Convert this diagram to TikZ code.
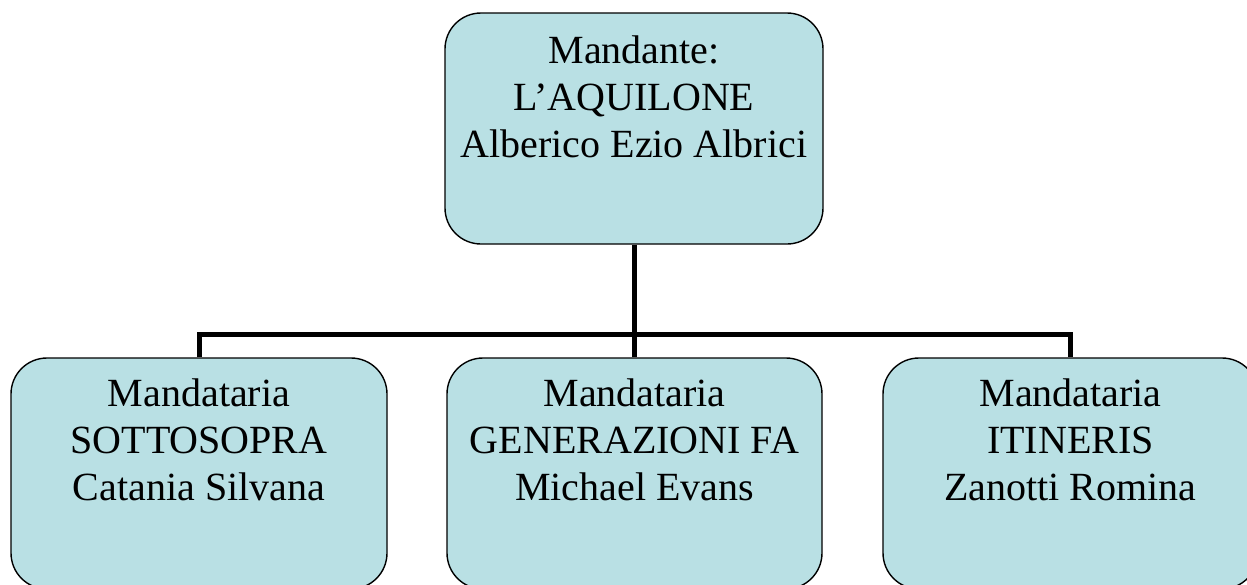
\documentclass[tikz,border=0pt]{standalone}
\usepackage{fontspec}
\setmainfont{Liberation Serif}
\definecolor{boxfill}{RGB}{185,224,228}
\begin{document}
\begin{tikzpicture}[x=1pt,y=-1pt,
  orgbox/.style={draw=black,line width=1.4pt,fill=boxfill,rounded corners=36pt,
    minimum height=231pt,inner sep=0pt},
  orgtext/.style={anchor=north,align=center,inner sep=0pt,
    font=\fontsize{40}{47}\selectfont},
  conn/.style={line width=5pt,draw=black}]
\useasboundingbox (0,0) rectangle (1247,584);
\node[orgbox,minimum width=378pt] (top) at (634,128.5) {};
\node[orgbox,minimum width=376pt] (left) at (199,473.5) {};
\node[orgbox,minimum width=375pt] (mid) at (634.5,473.5) {};
\node[orgbox,minimum width=375pt] (right) at (1070.5,473.5) {};
\coordinate (bus) at (634,334);
\draw[conn] (top.south) -- (top.south |- bus);
\draw[conn] (left.north) -- (left.north |- bus) -- (right.north |- bus) -- (right.north);
\draw[conn] (mid.north) -- (mid.north |- bus);
\node[orgtext] (toptxt) at ([yshift=-23pt]top.north) {Mandante:\\L’AQUILONE\\Alberico Ezio Albrici};
\node[orgtext] (lefttxt) at ([yshift=-21pt]left.north) {Mandataria\\SOTTOSOPRA\\Catania Silvana};
\node[orgtext] (midtxt) at ([yshift=-21pt]mid.north) {Mandataria\\GENERAZIONI FA\\Michael Evans};
\node[orgtext] (righttxt) at ([yshift=-21pt]right.north) {Mandataria\\ITINERIS\\Zanotti Romina};
\end{tikzpicture}
\end{document}
